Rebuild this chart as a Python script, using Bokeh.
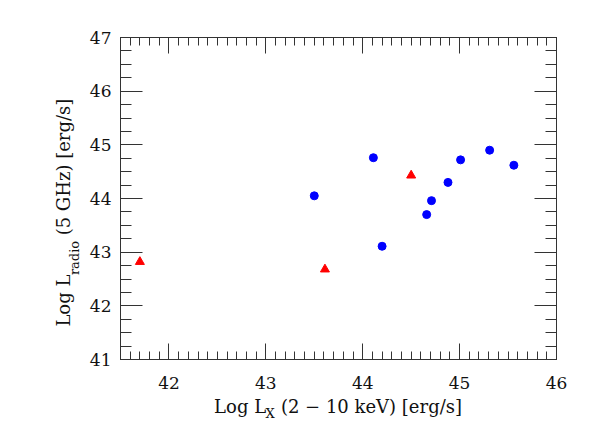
from bokeh.plotting import figure
from bokeh.models import FixedTicker, LinearAxis, Range1d
from bokeh.embed import file_html
from bokeh.resources import INLINE

# ---- data ----
circle_lx = [43.50, 44.11, 44.20, 44.66, 44.71, 44.88, 45.01, 45.31, 45.56]
circle_lr = [44.05, 44.76, 43.11, 43.70, 43.96, 44.30, 44.72, 44.90, 44.62]
triangle_lx = [41.70, 43.61, 44.50]
triangle_lr = [42.82, 42.68, 44.43]

x_major = [42, 43, 44, 45, 46]
x_minor = [round(41.5 + 0.1 * i, 2) for i in range(46)]
y_major = [41, 42, 43, 44, 45, 46, 47]
y_minor = [round(41 + 0.25 * i, 2) for i in range(25)]

x_label_main = "Log L"
x_label_sub = "X"
x_label_rest = "(2 \u2212 10 keV) [erg/s]"
y_label_main = "Log L"
y_label_sub = "radio"
y_label_rest = "(5 GHz) [erg/s]"

X0, X1 = 41.5, 46.0
Y0, Y1 = 41.0, 47.0

# ---- layout (canvas pixels) ----
FL, FT, FW, FH = 120, 37, 436, 322
LINE = "#333333"
FONT = "DejaVu Serif"
TXT = "#111111"

p = figure(width=586, height=429, frame_width=FW, frame_height=FH,
           x_range=Range1d(X0, X1), y_range=Range1d(Y0, Y1),
           output_backend="svg", toolbar_location=None,
           min_border_left=FL, min_border_right=30,
           min_border_top=FT, min_border_bottom=70)
p.grid.visible = False
p.outline_line_color = LINE
p.background_fill_color = "white"
p.border_fill_color = "white"

xt = FixedTicker(ticks=x_major, minor_ticks=x_minor)
yt = FixedTicker(ticks=y_major, minor_ticks=y_minor)


def style(ax, ticker, maj, mnr, show):
    ax.ticker = ticker
    ax.axis_line_color = LINE
    ax.axis_line_width = 1
    ax.major_tick_line_color = LINE
    ax.minor_tick_line_color = LINE
    ax.major_tick_in = maj
    ax.major_tick_out = 0
    ax.minor_tick_in = mnr
    ax.minor_tick_out = 0
    ax.axis_label = None
    if show:
        ax.major_label_text_font = FONT
        ax.major_label_text_font_size = "17px"
        ax.major_label_text_color = TXT
    else:
        ax.major_label_text_color = None
        ax.major_label_text_font_size = "1px"
        ax.major_label_standoff = 0


style(p.xaxis[0], xt, 16, 8, True)
p.xaxis[0].major_label_standoff = 17
style(p.yaxis[0], yt, 22, 11, True)
p.yaxis[0].major_label_standoff = 9

top = LinearAxis()
style(top, xt, 16, 8, False)
p.add_layout(top, "above")
right = LinearAxis()
style(right, yt, 22, 11, False)
p.add_layout(right, "right")

p.scatter(circle_lx, circle_lr, marker="circle", size=8,
          fill_color="#0000ff", line_color="#0000ff")
p.scatter(triangle_lx, triangle_lr, marker="triangle", size=9,
          fill_color="#ff0000", line_color="#ff0000")


def dx(px):
    return round(X0 + (px - FL) * (X1 - X0) / FW, 4)


def dy(py):
    return round(Y1 - (py - FT) * (Y1 - Y0) / FH, 4)


def text_axis(side, ticks, texts, size, standoff, orient="horizontal"):
    ax = LinearAxis(ticker=FixedTicker(ticks=ticks, minor_ticks=[]))
    ax.axis_label = None
    ax.axis_line_color = None
    ax.major_tick_line_color = None
    ax.minor_tick_line_color = None
    ax.major_tick_in = 0
    ax.major_tick_out = 0
    ax.minor_tick_in = 0
    ax.minor_tick_out = 0
    ax.major_label_overrides = dict(zip(ticks, texts))
    ax.major_label_text_font = FONT
    ax.major_label_text_font_size = size
    ax.major_label_text_color = TXT
    ax.major_label_standoff = standoff
    ax.major_label_orientation = orient
    p.add_layout(ax, side)


# x-axis title: pieces centred at estimated pixel positions
xs = 214.1
text_axis("below", [dx(xs + 25.5), dx(xs + 51 + 90.85 + 15.0)],
          [x_label_main, x_label_rest], "18px", 4)
text_axis("below", [dx(xs + 51 + 4.65)], [x_label_sub], "13px", -14)

# y-axis title (reads upwards)
ys = 325.6
text_axis("left", [dy(ys - 51 - 17.15)], [y_label_sub], "13px", 4, "parallel")
text_axis("left", [dy(ys - 25.5), dy(ys - 51 - 34.3 - 5.7 - 68.1)],
          [y_label_main, y_label_rest], "18px", -10, "parallel")

open("out.html", "w").write(file_html(p, INLINE))
